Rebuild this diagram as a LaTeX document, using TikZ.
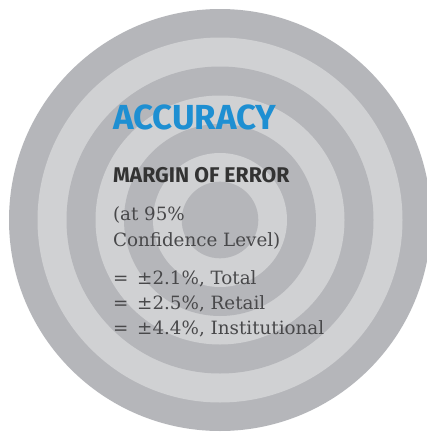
\documentclass[tikz,border=0pt]{standalone}
\usepackage{fontspec}
\setmainfont{DejaVu Serif}
\newfontfamily\headfont{Fira Sans}[UprightFont=* Bold]
\definecolor{ringdark}{RGB}{181,182,186}
\definecolor{ringlight}{RGB}{208,209,211}
\definecolor{accblue}{RGB}{30,143,210}
\definecolor{headgray}{RGB}{51,51,51}
\definecolor{bodygray}{RGB}{72,72,74}
\begin{document}
\begin{tikzpicture}[x=1pt,y=-1pt,
  txt/.style={anchor=base west,inner sep=0pt,outer sep=0pt},
  title/.style={txt,font=\headfont\fontsize{34.8}{38}\selectfont,text=accblue},
  sub/.style={txt,font=\headfont\fontsize{21.3}{24}\selectfont,text=headgray},
  body/.style={txt,font=\fontsize{18.3}{22}\selectfont,text=bodygray}]
\useasboundingbox (0,0) rectangle (427,434);
\fill[white] (0,0) rectangle (427,434);
\begin{scope}
\clip (0,0) rectangle (427,434);
\foreach \r/\c in {211/ringdark,182.5/ringlight,153.5/ringdark,124.5/ringlight,96/ringdark,67/ringlight,38.3/ringdark}
  \fill[\c] (220,220) circle (\r);
\end{scope}
\node[title] (acc) at (113,129.5) {ACCURACY};
\node[sub] (moe) at (113,182.7) {MARGIN OF ERROR};
\node[body] (l1) at (113,220) {(at 95\%};
\node[body] (l2) at (113,246) {Confidence Level)};
\node[body] (l3) at (113,284) {= \,±2.1\%, Total};
\node[body] (l4) at (113,309) {= \,±2.5\%, Retail};
\node[body] (l5) at (113,334.3) {= \,±4.4\%, Institutional};
\end{tikzpicture}
\end{document}
